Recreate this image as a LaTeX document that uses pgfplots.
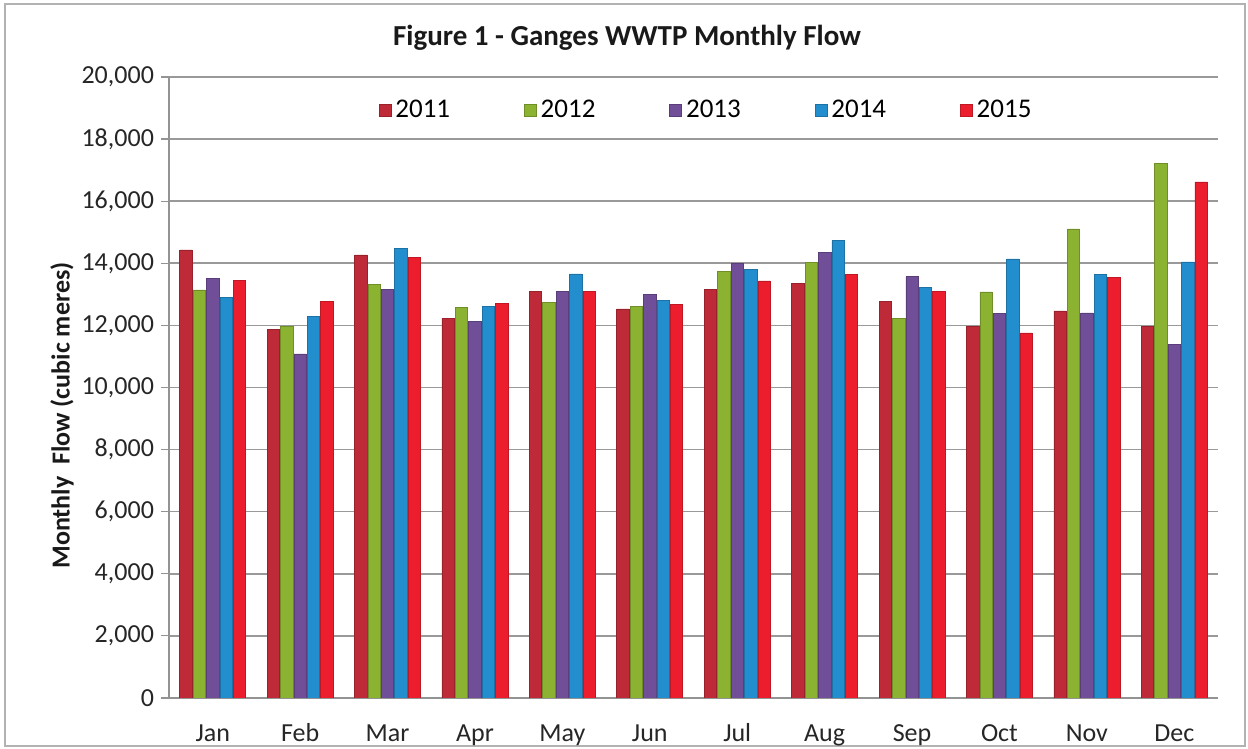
\documentclass[border=0pt]{standalone}
\usepackage{fontspec}
\setmainfont{Carlito}
\usepackage{pgfplots}
\pgfplotsset{compat=1.18}
\usepackage{pgfplotstable}

\definecolor{c2011}{RGB}{190,42,55}
\definecolor{c2012}{RGB}{140,178,50}
\definecolor{c2013}{RGB}{112,78,152}
\definecolor{c2014}{RGB}{35,142,205}
\definecolor{c2015}{RGB}{236,30,45}

\pgfplotstableread{
x y2011 y2012 y2013 y2014 y2015
0 14430 13140 13520 12890 13450
1 11880 11970 11080 12290 12760
2 14270 13320 13170 14490 14200
3 12215 12570 12130 12610 12720
4 13090 12750 13100 13660 13090
5 12530 12620 13000 12800 12680
6 13150 13730 14000 13810 13430
7 13360 14020 14340 14730 13650
8 12780 12230 13570 13230 13100
9 11980 13080 12390 14140 11760
10 12470 15110 12400 13630 13550
11 11980 17230 11380 14045 16620
}\flowdata

\begin{document}
\begin{tikzpicture}
\useasboundingbox (-84.5pt,-25.5pt) rectangle (539.5pt,349pt);
\draw[gray!60, line width=0.6pt] (-82pt,-24pt) rectangle (538pt,347pt);
\begin{axis}[
  at={(0,0)}, anchor=south west,
  scale only axis, width=524.5pt, height=310.5pt,
  ybar=0.5pt, bar width=6.2pt,
  xmin=-0.5, xmax=11.5, ymin=0, ymax=20000,
  xtick=data,
  xticklabels={Jan,Feb,Mar,Apr,May,Jun,Jul,Aug,Sep,Oct,Nov,Dec},
  ytick={0,2000,...,20000},
  scaled y ticks=false,
  axis lines*=left,
  axis line style={draw=gray!85, line width=0.8pt, -},
  ymajorgrids,
  grid style={gray!80, line width=0.8pt},
  tick align=outside,
  major tick length=4pt,
  xtick style={draw=none},
  ytick style={gray!85, line width=0.6pt},
  /pgf/number format/assume math mode=true,
  yticklabel style={/pgf/number format/1000 sep={,}},
  tick label style={font=\fontsize{13}{15}\selectfont, text=black!85},
  xticklabel style={anchor=base, yshift=-18pt},
  ylabel={Monthly~~Flow (cubic meres)},
  ylabel style={at={(axis description cs:-0.102,0.455)}, anchor=center, font=\bfseries\fontsize{13}{15}\selectfont, text=black!90},
  title={Figure 1 - Ganges WWTP Monthly Flow},
  title style={at={(axis description cs:0.4366,1.032)}, anchor=base, font=\bfseries\fontsize{14.5}{17}\selectfont, text=black!90},
  legend style={draw=none, fill=none, at={(axis description cs:0.513,0.947)}, anchor=center,
    legend columns=-1, font=\fontsize{13.5}{15}\selectfont,
    /tikz/every even column/.append style={column sep=35pt}},
  legend image code/.code={\fill[#1] (0pt,-3pt) rectangle (6pt,3pt);},
]
\addplot[draw=c2011!80!black, line width=0.3pt, fill=c2011] table[x=x,y=y2011]{\flowdata};
\addplot[draw=c2012!80!black, line width=0.3pt, fill=c2012] table[x=x,y=y2012]{\flowdata};
\addplot[draw=c2013!80!black, line width=0.3pt, fill=c2013] table[x=x,y=y2013]{\flowdata};
\addplot[draw=c2014!80!black, line width=0.3pt, fill=c2014] table[x=x,y=y2014]{\flowdata};
\addplot[draw=c2015!80!black, line width=0.3pt, fill=c2015] table[x=x,y=y2015]{\flowdata};
\legend{2011,2012,2013,2014,2015}
\end{axis}
\end{tikzpicture}
\end{document}
